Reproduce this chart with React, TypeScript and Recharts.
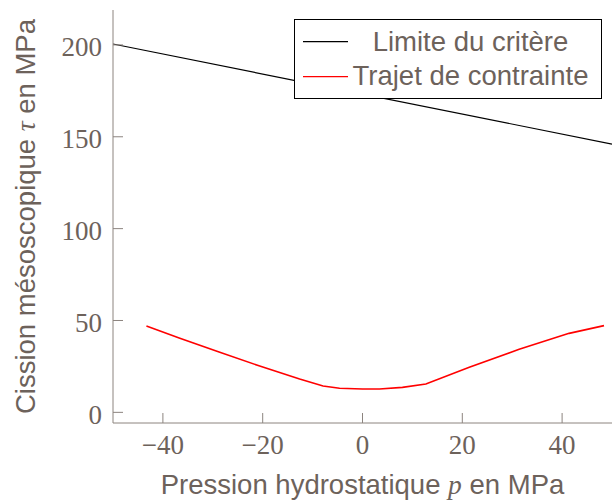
import { LineChart, Line, XAxis, YAxis, Legend } from "recharts"

// critère (droite limite)
const criterionP = [-50, 50]
const criterionTau = [200.5, 146]

// trajet de contrainte
const pathP = [-43.3, -36.6, -28.6, -20.6, -12.6, -7.9, -4.6, 0, 3.4, 8, 12.7, 21.4, 31.4, 41.4, 48.4]
const pathTau = [47.0, 40.3, 32.7, 25.2, 18.1, 14.3, 13.1, 12.7, 12.7, 13.6, 15.4, 24.5, 34.3, 43.0, 47.2]

const xTicks = [-40, -20, 0, 20, 40]
const yTicks = [0, 50, 100, 150, 200]

const criterion = criterionP.map((p, i) => ({ p, tau: criterionTau[i] }))
const path = pathP.map((p, i) => ({ p, tau: pathTau[i] }))

const W = 616
const H = 500
const TOP = 10
const TICK_LEN = 10
const X_GAP = 12
const Y_GAP = 11
const AXIS = "#8c847f"
const TEXT = "#6d625b"
const SERIF = "'Liberation Serif', 'Times New Roman', serif"
const SANS = "'Liberation Sans', Arial, sans-serif"

const fmt = (v: number) => (v < 0 ? `\u2212${-v}` : `${v}`)

function BottomTick({ x, y, payload }: any) {
  const axisY = y - X_GAP
  return (
    <g>
      <line x1={x} x2={x} y1={axisY} y2={axisY - TICK_LEN} stroke={AXIS} />
      <text x={x} y={y} dy="0.71em" textAnchor="middle" fill={TEXT} fontFamily={SERIF} fontSize={27}>
        {fmt(payload.value)}
      </text>
    </g>
  )
}

function LeftTick({ x, y, payload }: any) {
  const axisX = x + Y_GAP
  return (
    <g>
      <line x1={axisX} x2={axisX + TICK_LEN} y1={y} y2={y} stroke={AXIS} />
      <text x={x} y={y} dy="0.42em" textAnchor="end" fill={TEXT} fontFamily={SERIF} fontSize={27}>
        {fmt(payload.value)}
      </text>
    </g>
  )
}

function TopTick({ x, y }: any) {
  return <line x1={x} x2={x} y1={y} y2={y + TICK_LEN} stroke={AXIS} />
}

function RightTick({ x, y }: any) {
  return <line x1={x} x2={x - TICK_LEN} y1={y} y2={y} stroke={AXIS} />
}

function LegendBox({ payload }: any) {
  const items = payload || []
  return (
    <svg width={308} height={80} style={{ display: "block" }}>
      <rect x={0.5} y={0.5} width={307} height={79} fill="#fff" stroke="#000" />
      {items.map((it: any, i: number) => (
        <g key={it.value}>
          <line x1={9} x2={54} y1={22.7 + i * 35} y2={22.7 + i * 35} stroke={it.color} strokeWidth={1.2} />
          <text x={176.5} y={31.7 + i * 34.5} textAnchor="middle" fill={TEXT} fontFamily={SANS} fontSize={27.5}>
            {it.value}
          </text>
        </g>
      ))}
    </svg>
  )
}

export default function App() {
  return (
    <div style={{ position: "absolute", left: 0, top: 0, background: "#fff" }}>
      <LineChart width={W} height={H} margin={{ top: TOP, right: 4, bottom: 0, left: 0 }}>
        <XAxis
          xAxisId="bottom"
          type="number"
          dataKey="p"
          domain={[-50, 50]}
          ticks={xTicks}
          allowDataOverflow
          height={77}
          tickSize={0}
          tickLine={false}
          tickMargin={X_GAP}
          tick={<BottomTick />}
          axisLine={{ stroke: AXIS }}
          label={{
            content: () => (
              <text x={362.5} y={494} textAnchor="middle" fill={TEXT} fontFamily={SANS} fontSize={27.5}>
                Pression hydrostatique{" "}
                <tspan fontFamily={SERIF} fontStyle="italic">p</tspan> en MPa
              </text>
            ),
          }}
        />
        <XAxis
          xAxisId="top"
          orientation="top"
          type="number"
          dataKey="p"
          domain={[-50, 50]}
          ticks={xTicks}
          allowDataOverflow
          height={0}
          tickSize={0}
          tickLine={false}
          tickMargin={0}
          tick={<TopTick />}
          axisLine={{ stroke: AXIS }}
        />
        <YAxis
          yAxisId="left"
          type="number"
          domain={[-5.8, 219]}
          ticks={yTicks}
          allowDataOverflow
          width={113}
          tickSize={0}
          tickLine={false}
          tickMargin={Y_GAP}
          tick={<LeftTick />}
          axisLine={{ stroke: AXIS }}
          label={{
            content: () => (
              <text
                x={35}
                y={216.5}
                transform="rotate(-90 35 216.5)"
                textAnchor="middle"
                fill={TEXT}
                fontFamily={SANS}
                fontSize={27.5}
              >
                Cission mésoscopique{" "}
                <tspan fontFamily={SERIF} fontStyle="italic">τ</tspan> en MPa
              </text>
            ),
          }}
        />
        <YAxis
          yAxisId="right"
          orientation="right"
          type="number"
          domain={[-5.8, 219]}
          ticks={yTicks}
          allowDataOverflow
          width={0}
          tickSize={0}
          tickLine={false}
          tickMargin={0}
          tick={<RightTick />}
          axisLine={{ stroke: AXIS }}
        />
        <Legend
          layout="vertical"
          align="center"
          verticalAlign="middle"
          content={<LegendBox />}
          wrapperStyle={{ left: 294, top: 19, width: 308, height: 80 }}
        />
        <Line
          xAxisId="bottom"
          yAxisId="left"
          data={criterion}
          dataKey="tau"
          name="Limite du critère"
          type="linear"
          stroke="#000"
          strokeWidth={1.2}
          dot={false}
          isAnimationActive={false}
        />
        <Line
          xAxisId="bottom"
          yAxisId="left"
          data={path}
          dataKey="tau"
          name="Trajet de contrainte"
          type="linear"
          stroke="#ff0000"
          strokeWidth={1.6}
          dot={false}
          isAnimationActive={false}
        />
      </LineChart>
    </div>
  )
}
